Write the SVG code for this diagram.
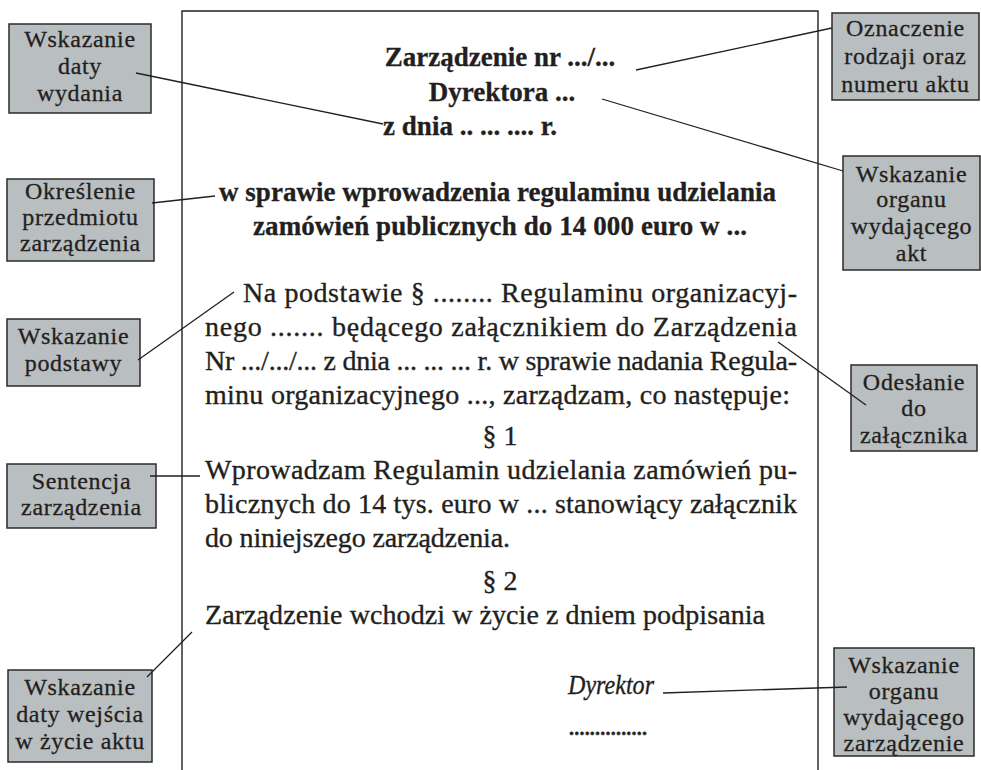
<svg xmlns="http://www.w3.org/2000/svg" width="981" height="770" viewBox="0 0 981 770">
<style>
.box{fill:#b9bec0;stroke:#2b2b2b;stroke-width:1.5}
.lbl{font-family:"Liberation Serif","Times New Roman",serif;font-size:24px;fill:#231f20;text-anchor:middle;letter-spacing:0.7px;stroke:#231f20;stroke-width:0.3}
.body{font-family:"Liberation Serif","Times New Roman",serif;font-size:28px;fill:#231f20;stroke:#231f20;stroke-width:0.35}
.bold{font-family:"Liberation Serif","Times New Roman",serif;font-size:27px;font-weight:bold;fill:#231f20;stroke:#231f20;stroke-width:0.3}
.it{font-style:italic}
.conn line{stroke:#231f20;stroke-width:1.3}
</style>
<rect width="981" height="770" fill="#ffffff"/>
<g id="document">
<path d="M182,770 V11 H818 V770" fill="none" stroke="#231f20" stroke-width="1.4"/>
<text class="bold" x="500" y="66" text-anchor="middle">Zarządzenie nr .../...</text>
<text class="bold" x="502" y="101" text-anchor="middle">Dyrektora ...</text>
<text class="bold" x="470" y="135" text-anchor="middle">z dnia .. ... .... r.</text>
<text class="bold" x="219" y="201" textLength="557">w sprawie wprowadzenia regulaminu udzielania</text>
<text class="bold" x="253" y="235" textLength="494">zamówień publicznych do 14 000 euro w ...</text>
<text class="body" x="243" y="302" textLength="554">Na podstawie § ........ Regulaminu organizacyj-</text>
<text class="body" x="205" y="336" textLength="592">nego ....... będącego załącznikiem do Zarządzenia</text>
<text class="body" x="205" y="370" textLength="592">Nr .../.../... z dnia ... ... ... r. w sprawie nadania Regula-</text>
<text class="body" x="205" y="404" textLength="585">minu organizacyjnego ..., zarządzam, co następuje:</text>
<text class="body" x="500" y="445" text-anchor="middle">§ 1</text>
<text class="body" x="205" y="479" textLength="592">Wprowadzam Regulamin udzielania zamówień pu-</text>
<text class="body" x="205" y="513" textLength="592">blicznych do 14 tys. euro w ... stanowiący załącznik</text>
<text class="body" x="205" y="547" textLength="305">do niniejszego zarządzenia.</text>
<text class="body" x="500" y="590" text-anchor="middle">§ 2</text>
<text class="body" x="205" y="624" textLength="560">Zarządzenie wchodzi w życie z dniem podpisania</text>
<text class="body it" x="568" y="694" textLength="86" lengthAdjust="spacingAndGlyphs">Dyrektor</text>
<text class="body" x="568" y="735" textLength="80">...............</text>
</g>
<g id="n1"><rect class="box" x="9" y="24" width="142" height="89"/>
<text class="lbl" x="80" y="47">Wskazanie</text><text class="lbl" x="80" y="74">daty</text><text class="lbl" x="80" y="101">wydania</text></g>
<g id="n2"><rect class="box" x="832" y="13" width="147" height="87"/>
<text class="lbl" x="905.5" y="36">Oznaczenie</text><text class="lbl" x="905.5" y="64">rodzaji oraz</text><text class="lbl" x="905.5" y="92">numeru aktu</text></g>
<g id="n3"><rect class="box" x="7" y="179" width="147" height="82"/>
<text class="lbl" x="80.5" y="199">Określenie</text><text class="lbl" x="80.5" y="225">przedmiotu</text><text class="lbl" x="80.5" y="251">zarządzenia</text></g>
<g id="n4"><rect class="box" x="843" y="156" width="137" height="114"/>
<text class="lbl" x="911.5" y="182">Wskazanie</text><text class="lbl" x="911.5" y="207">organu</text><text class="lbl" x="911.5" y="234">wydającego</text><text class="lbl" x="911.5" y="261">akt</text></g>
<g id="n5"><rect class="box" x="7" y="319" width="133" height="67"/>
<text class="lbl" x="73.5" y="344">Wskazanie</text><text class="lbl" x="73.5" y="371">podstawy</text></g>
<g id="n6"><rect class="box" x="851" y="365" width="126" height="86"/>
<text class="lbl" x="914" y="390">Odesłanie</text><text class="lbl" x="914" y="416">do</text><text class="lbl" x="914" y="443">załącznika</text></g>
<g id="n7"><rect class="box" x="7" y="464" width="149" height="64"/>
<text class="lbl" x="81.5" y="489">Sentencja</text><text class="lbl" x="81.5" y="515">zarządzenia</text></g>
<g id="n8"><rect class="box" x="8" y="670" width="144" height="92"/>
<text class="lbl" x="80" y="695">Wskazanie</text><text class="lbl" x="80" y="722">daty wejścia</text><text class="lbl" x="80" y="749">w życie aktu</text></g>
<g id="n9"><rect class="box" x="834" y="648" width="140" height="108"/>
<text class="lbl" x="904" y="673">Wskazanie</text><text class="lbl" x="904" y="699">organu</text><text class="lbl" x="904" y="725">wydającego</text><text class="lbl" x="904" y="751">zarządzenie</text></g>
<g class="conn" id="connectors">
<line x1="136" y1="73" x2="383" y2="124"/>
<line x1="636" y1="70" x2="832" y2="28"/>
<line x1="602" y1="99" x2="843" y2="171"/>
<line x1="152" y1="203" x2="215" y2="196"/>
<line x1="138" y1="360" x2="234" y2="292"/>
<line x1="778" y1="342" x2="866" y2="405"/>
<line x1="150" y1="476" x2="200" y2="476"/>
<line x1="147" y1="677" x2="192" y2="632"/>
<line x1="663" y1="693" x2="847" y2="687"/>
</g>
</svg>
